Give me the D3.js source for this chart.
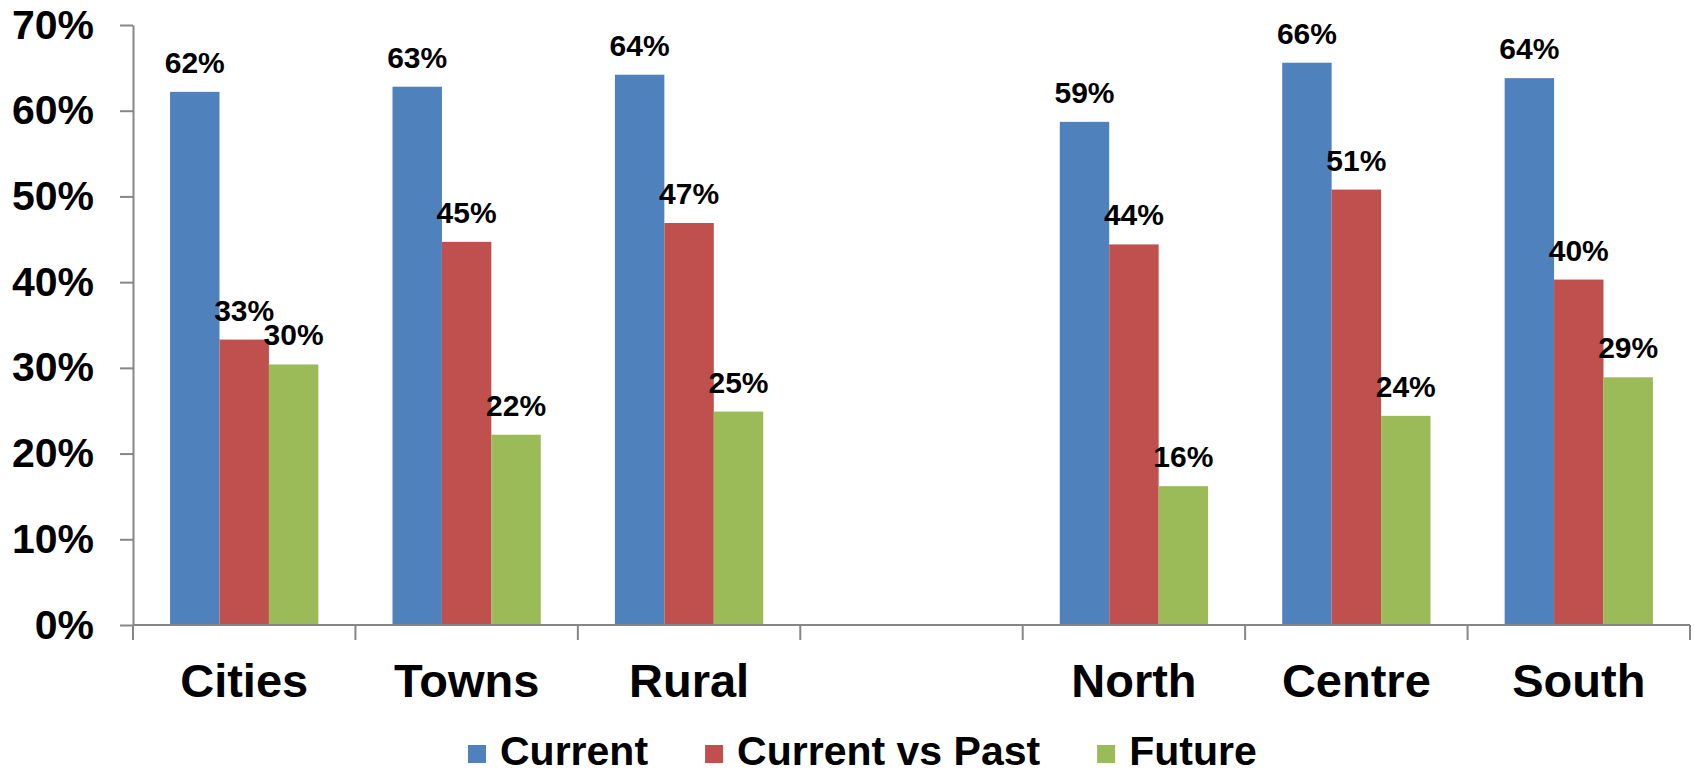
<!DOCTYPE html>
<html>
<head>
<meta charset="utf-8">
<script src="https://cdn.jsdelivr.net/npm/d3@7"></script>
<style>
  html, body { margin: 0; padding: 0; background: #fff; }
  svg { display: block; font-family: "Liberation Sans", Arial, sans-serif; font-weight: bold; }
</style>
</head>
<body>
<svg id="chart" width="1694" height="774"></svg>
<script>
// ---- data ----
const categories = ["Cities", "Towns", "Rural", "", "North", "Centre", "South"];
const seriesNames = ["Current", "Current vs Past", "Future"];
const current = [0.622, 0.628, 0.642, null, 0.587, 0.656, 0.638];
const currentVsPast = [0.333, 0.447, 0.469, null, 0.444, 0.508, 0.403];
const future = [0.304, 0.222, 0.249, null, 0.162, 0.244, 0.289];
const yTicks = [0, 0.1, 0.2, 0.3, 0.4, 0.5, 0.6, 0.7];
const colors = ["#4F81BD", "#C0504D", "#9BBB59"];

const seriesValues = [current, currentVsPast, future];

// ---- layout ----
const svg = d3.select("#chart");
const plotLeft = 133, plotRight = 1690, plotTop = 25, plotBottom = 625;
const axisColor = "#868686";

const x = d3.scaleBand().domain(categories.map((c, i) => i)).range([plotLeft, plotRight]).paddingInner(0).paddingOuter(0);
const xs = d3.scaleBand().domain(seriesNames).range([0, x.bandwidth()]).paddingInner(0).paddingOuter(0.75);
const y = d3.scaleLinear().domain([0, 0.7]).range([plotBottom, plotTop]);

// bars
seriesNames.forEach((s, si) => {
  const g = svg.append("g");
  const data = seriesValues[si].map((v, i) => ({ i, v })).filter(d => d.v != null);
  g.selectAll("rect").data(data).enter().append("rect")
    .attr("x", d => x(d.i) + xs(s))
    .attr("y", d => y(d.v))
    .attr("width", xs.bandwidth())
    .attr("height", d => y(0) - y(d.v))
    .attr("fill", colors[si]);
  g.selectAll("text").data(data).enter().append("text")
    .attr("x", d => x(d.i) + xs(s) + xs.bandwidth() / 2)
    .attr("y", d => y(d.v) - 19)
    .attr("text-anchor", "middle")
    .attr("font-size", 30)
    .attr("fill", "#000")
    .text(d => d3.format(".0%")(d.v));
});

// y axis
const yAxis = svg.append("g")
  .attr("transform", `translate(${plotLeft},0)`)
  .call(d3.axisLeft(y).tickValues(yTicks).tickFormat(d3.format(".0%")).tickSize(13).tickPadding(26).tickSizeOuter(0));
yAxis.select(".domain").attr("stroke", axisColor).attr("stroke-width", 2);
yAxis.selectAll(".tick line").attr("stroke", axisColor).attr("stroke-width", 2);
yAxis.selectAll(".tick text").attr("font-size", 41).attr("font-weight", "bold").attr("fill", "#000")
  .attr("font-family", "'Liberation Sans', Arial, sans-serif");

// x axis (labels)
const xAxis = svg.append("g")
  .attr("transform", `translate(0,${plotBottom})`)
  .call(d3.axisBottom(x).tickFormat(i => categories[i]).tickSize(0).tickPadding(39).tickSizeOuter(0));
xAxis.select(".domain").remove();
xAxis.selectAll(".tick text").attr("font-size", 47).attr("font-weight", "bold").attr("fill", "#000")
  .attr("font-family", "'Liberation Sans', Arial, sans-serif");

// x axis line and boundary ticks
svg.append("line").attr("x1", plotLeft).attr("x2", plotRight).attr("y1", plotBottom).attr("y2", plotBottom)
  .attr("stroke", axisColor).attr("stroke-width", 2);
const boundaries = categories.map((c, i) => x(i)).concat([x(categories.length - 1) + x.bandwidth()]);
svg.append("g").selectAll("line").data(boundaries).enter().append("line")
  .attr("x1", d => d).attr("x2", d => d)
  .attr("y1", plotBottom).attr("y2", plotBottom + 15)
  .attr("stroke", axisColor).attr("stroke-width", 2);

// legend
const legend = svg.append("g");
let lx = 468;
seriesNames.forEach((s, si) => {
  legend.append("rect").attr("x", lx).attr("y", 745).attr("width", 18).attr("height", 18).attr("fill", colors[si]);
  const t = legend.append("text").attr("x", lx + 32).attr("y", 765).attr("font-size", 41).attr("fill", "#000").text(s);
  const w = t.node().getComputedTextLength();
  lx = lx + 32 + w + 57;
});
</script>
</body>
</html>
